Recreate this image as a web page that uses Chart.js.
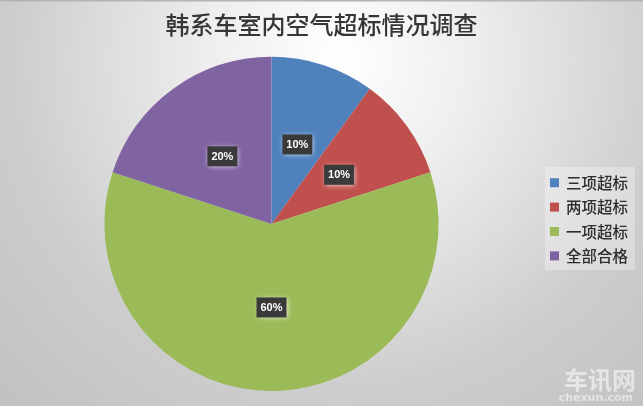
<!DOCTYPE html>
<html>
<head>
<meta charset="utf-8">
<script src="https://cdn.jsdelivr.net/npm/chart.js@4/dist/chart.umd.min.js"></script>
<style>
  html, body { margin: 0; padding: 0; background: #d6d6d6; }
  canvas { display: block; }
</style>
</head>
<body>
<canvas id="grafico" width="643" height="406"></canvas>
<script>
// dados do grafico
const categorias = ['三项超标', '两项超标', '一项超标', '全部合格'];
const percentuais = [10, 10, 60, 20];
const cores = ['#4F81BD', '#C0504D', '#9BBB59', '#8064A2'];
const titulo = '韩系车室内空气超标情况调查';

// fundo cinza com brilho perto do titulo
const fundo = {
  id: 'fundo',
  beforeDraw(chart) {
    const c = chart.ctx;
    const w = chart.width, h = chart.height;
    c.save();
    const g = c.createRadialGradient(340, 60, 0, 340, 60, 470);
    g.addColorStop(0, '#ffffff');
    g.addColorStop(0.28, '#eeeeee');
    g.addColorStop(0.7, '#cdcdcd');
    g.addColorStop(1, '#c2c2c2');
    c.fillStyle = g;
    c.fillRect(0, 0, w, h);
    c.fillStyle = '#b4b4b4';
    c.fillRect(0, 0, w, 1.5);
    c.restore();
  }
};

// titulo centrado na largura toda
const cabecalho = {
  id: 'cabecalho',
  afterDraw(chart) {
    const c = chart.ctx;
    c.save();
    c.font = '500 24px "Noto Sans CJK SC", sans-serif';
    c.fillStyle = '#363636';
    c.textAlign = 'center';
    c.textBaseline = 'middle';
    c.fillText(titulo, chart.width / 2, 24.5);
    c.restore();
  }
};

// rotulos escuros no meio de cada fatia
const rotulos = {
  id: 'rotulos',
  afterDatasetsDraw(chart) {
    const c = chart.ctx;
    const meta = chart.getDatasetMeta(0);
    c.save();
    c.font = 'bold 11px "Liberation Sans", Arial, sans-serif';
    c.textAlign = 'center';
    c.textBaseline = 'middle';
    meta.data.forEach((arco, i) => {
      const p = arco.tooltipPosition();
      const texto = percentuais[i] + '%';
      const bw = 30, bh = 20;
      c.shadowColor = 'rgba(255,255,255,0.75)';
      c.shadowBlur = 5;
      c.shadowOffsetX = 1;
      c.shadowOffsetY = 1;
      c.fillStyle = '#3a3a3a';
      c.fillRect(p.x - bw / 2, p.y - bh / 2, bw, bh);
      c.shadowColor = 'transparent';
      c.shadowBlur = 0;
      c.fillStyle = '#ffffff';
      c.fillText(texto, p.x, p.y + 0.5);
    });
    c.restore();
  }
};

// legenda na direita
const legenda = {
  id: 'legenda',
  afterDraw(chart) {
    const c = chart.ctx;
    c.save();
    c.fillStyle = 'rgba(255,255,255,0.3)';
    c.fillRect(545, 167, 90, 103);
    c.font = '500 15.5px "Noto Sans CJK SC", sans-serif';
    c.textAlign = 'left';
    c.textBaseline = 'middle';
    categorias.forEach((nome, i) => {
      const y = 182.7 + i * 24.4;
      c.fillStyle = cores[i];
      c.fillRect(550, y - 4.5, 9, 9);
      c.fillStyle = '#2e2e2e';
      c.fillText(nome, 566, y + 0.5);
    });
    // marca d'agua
    c.textAlign = 'right';
    c.fillStyle = 'rgba(255,255,255,0.55)';
    c.font = 'bold 24px "Noto Sans CJK SC", sans-serif';
    c.fillText('车讯网', 636, 380);
    c.font = 'bold 11px "DejaVu Sans", sans-serif';
    c.fillText('chexun.com', 633, 398);
    c.restore();
  }
};

new Chart(document.getElementById('grafico'), {
  type: 'pie',
  data: {
    labels: categorias,
    datasets: [{
      data: percentuais,
      backgroundColor: cores,
      borderWidth: 0
    }]
  },
  options: {
    responsive: false,
    animation: false,
    layout: { padding: { left: 104, right: 204, top: 56.8, bottom: 15 } },
    plugins: {
      legend: { display: false },
      tooltip: { enabled: false },
      title: { display: false }
    }
  },
  plugins: [fundo, cabecalho, rotulos, legenda]
});
</script>
</body>
</html>
